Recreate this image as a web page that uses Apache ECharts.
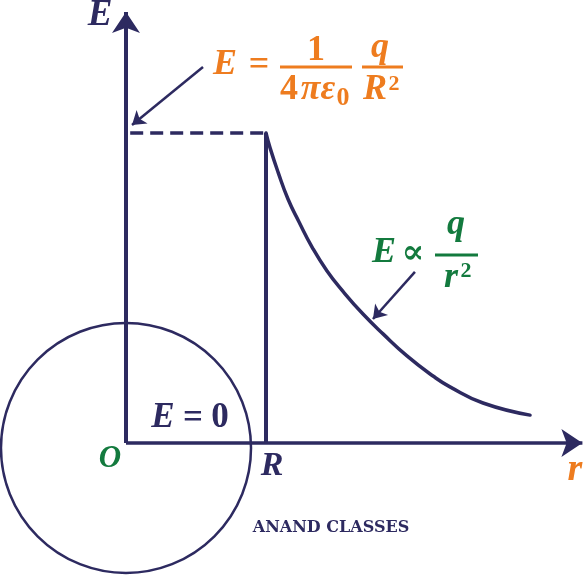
<!DOCTYPE html>
<html>
<head>
<meta charset="utf-8">
<script src="https://cdn.jsdelivr.net/npm/echarts@6/dist/echarts.min.js"></script>
<style>
html,body{margin:0;padding:0;background:#fff;}
#chart{width:585px;height:576px;}
</style>
</head>
<body>
<div id="chart"></div>
<script>
// r in units of R, E in units of E(R)
const R_VALUES = [1, 1.029, 1.086, 1.157, 1.236, 1.329, 1.436, 1.55, 1.693, 1.836, 2.007, 2.193, 2.314, 2.55, 2.886];
const E_VALUES = [1, 0.952, 0.874, 0.787, 0.713, 0.632, 0.555, 0.489, 0.416, 0.352, 0.281, 0.216, 0.181, 0.129, 0.09];
const R_SHELL = 1;
const E_SURFACE = 1;
const X_AXIS_END = 3.26;
const Y_AXIS_END = 1.39;
const SPHERE_CENTER = [0, -0.016];
const SPHERE_RADIUS = 0.893;
const POINTER_1 = [[0.55, 1.213], [0.043, 1.026]];
const POINTER_2 = [[2.064, 0.552], [1.764, 0.4]];
const X_RANGE = [-0.9, 3.2786];
const Y_RANGE = [-0.429, 1.429];

const navy = '#2d2a60';
const orange = '#ee7c1f';
const green = '#137a3e';
const SERIF = '"Liberation Serif", "DejaVu Serif", serif';

const chart = echarts.init(document.getElementById('chart'));

function txt(x, y, text, size, fill, style, weight, family) {
  return {
    type: 'text', x: x, y: y, z: 100,
    style: {
      text: text, fill: fill, align: 'center', verticalAlign: 'middle',
      fontSize: size, fontFamily: family || SERIF, fontStyle: style || 'normal', fontWeight: weight || 'bold'
    }
  };
}
function bar(x1, x2, y, color) {
  return { type: 'line', z: 100, shape: { x1: x1, y1: y, x2: x2, y2: y }, style: { stroke: color, lineWidth: 2.8 } };
}

const curve = R_VALUES.map((r, i) => [r, E_VALUES[i]]);

chart.setOption({
  animation: false,
  grid: { left: 0, right: 0, top: 0, bottom: 0 },
  xAxis: { type: 'value', min: X_RANGE[0], max: X_RANGE[1], show: false },
  yAxis: { type: 'value', min: Y_RANGE[0], max: Y_RANGE[1], show: false },
  series: [
    {
      type: 'custom',
      coordinateSystem: 'cartesian2d',
      silent: true,
      data: [[SPHERE_CENTER[0], SPHERE_CENTER[1], SPHERE_RADIUS]],
      renderItem: function (params, api) {
        const c = api.coord([api.value(0), api.value(1)]);
        const rad = api.size([api.value(2), 0])[0];
        return {
          type: 'circle',
          shape: { cx: c[0], cy: c[1], r: rad },
          style: { fill: 'none', stroke: navy, lineWidth: 2.5 }
        };
      },
      z: 1
    },
    {
      type: 'lines',
      coordinateSystem: 'cartesian2d',
      symbol: ['none', 'arrow'],
      symbolSize: [15, 21],
      lineStyle: { color: navy, width: 4, opacity: 1, curveness: 0 },
      data: [
        { coords: [[0, 0], [0, Y_AXIS_END]] },
        { coords: [[0, 0], [X_AXIS_END, 0]], lineStyle: { width: 3.5 } }
      ],
      z: 5
    },
    {
      type: 'lines',
      coordinateSystem: 'cartesian2d',
      symbol: ['none', 'arrow'],
      symbolSize: [9, 13],
      lineStyle: { color: navy, width: 2.5, opacity: 1 },
      data: [{ coords: POINTER_1 }, { coords: POINTER_2 }],
      z: 5
    },
    {
      type: 'lines',
      coordinateSystem: 'cartesian2d',
      symbol: 'none',
      lineStyle: { color: navy, width: 4, opacity: 1 },
      data: [
        { coords: [[R_SHELL, 0], [R_SHELL, E_SURFACE]] },
        { coords: [[0.03, E_SURFACE], [R_SHELL, E_SURFACE]], lineStyle: { type: [13, 7], width: 3.5 } }
      ],
      z: 5
    },
    {
      type: 'line',
      data: curve,
      smooth: 0.5,
      symbol: 'none',
      lineStyle: { color: navy, width: 3.5, cap: 'round' },
      z: 6
    }
  ],
  graphic: [
    // axis labels
    txt(100, 15, 'E', 37, navy, 'italic'),
    txt(575, 470, 'r', 38, orange, 'italic'),
    txt(110, 459, 'O', 31, green, 'italic'),
    txt(272, 466, 'R', 34, navy, 'italic'),
    // E = 0
    txt(163, 418, 'E', 35, navy, 'italic'),
    txt(193, 419, '=', 35, navy),
    txt(220, 418, '0', 35, navy),
    // E = 1/(4 pi eps0) q/R^2
    txt(225, 65, 'E', 36, orange, 'italic'),
    txt(259, 66, '=', 36, orange),
    txt(316, 51, '1', 36, orange),
    bar(280, 352, 67, orange),
    txt(289, 90, '4', 36, orange),
    txt(318, 90, 'πε', 36, orange, 'italic'),
    txt(343, 98, '0', 26, orange),
    txt(380, 48, 'q', 36, orange, 'italic'),
    bar(362, 403, 67, orange),
    txt(375, 90, 'R', 36, orange, 'italic'),
    txt(394, 84, '2', 22, orange),
    // E ∝ q/r^2
    txt(384, 253, 'E', 36, green, 'italic'),
    txt(413, 254, '∝', 34, green),
    txt(456, 225, 'q', 36, green, 'italic'),
    bar(435, 478, 255, green),
    txt(451, 278, 'r', 36, green, 'italic'),
    txt(466, 271, '2', 22, green),
    // watermark
    txt(331, 528, 'ANAND CLASSES', 16, navy, 'normal', 'bold', '"DejaVu Serif", serif')
  ]
});
</script>
</body>
</html>
